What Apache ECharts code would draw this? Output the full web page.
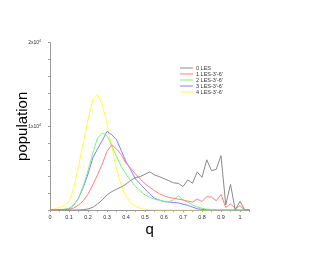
<!DOCTYPE html>
<html><head><meta charset="utf-8">
<script src="https://cdn.jsdelivr.net/npm/echarts@6/dist/echarts.min.js"></script>
<style>html,body{margin:0;padding:0;background:#fff}#c{width:327px;height:253px}</style>
</head><body><div id="c"></div>
<script>
const qValues = [0,0.025,0.05,0.075,0.1,0.125,0.15,0.175,0.2,0.225,0.25,0.275,0.3,0.325,0.35,0.375,0.4,0.425,0.45,0.475,0.5,0.525,0.55,0.575,0.6,0.625,0.65,0.675,0.7,0.725,0.75,0.775,0.8,0.825,0.85,0.875,0.9,0.925,0.95,0.975,1.0,1.025,1.05];
const seriesNames = ["0 LES","1 LES-3'-6'","2 LES-3'-6'","3 LES-3'-6'","4 LES-3'-6'"];
const les0 = [0,0,0,0,0,0,0,40,120,320,720,1200,1800,2200,2480,2750,3100,3550,3870,4000,4270,4550,4190,3990,3750,3510,3250,3190,2800,3600,3200,4550,3900,6000,4700,4870,6500,600,3070,0,1040,0,0];
const les1 = [0,0,0,20,80,250,600,1100,1900,3000,4200,5500,7000,7800,7300,6600,5600,5000,4300,3700,3150,2700,2300,1950,1700,1500,1400,1300,1200,1050,950,1300,1000,1600,1550,1100,1850,300,700,200,500,0,0];
const les2 = [0,20,50,100,200,600,1400,2900,4700,6800,8600,9200,8900,7700,6400,5200,4300,3500,2800,2300,1800,1500,1300,1150,1050,1000,1200,1700,1200,950,600,350,200,100,80,50,30,0,0,0,0,0,0];
const les3 = [0,10,30,60,150,600,1400,2700,4300,6200,7300,8300,9400,9000,8400,7100,5800,4800,3700,3100,2500,1900,1400,1200,1000,950,900,850,700,550,350,150,80,40,20,0,0,0,0,0,0,0,0];
const les4 = [0,150,300,550,1000,2600,5200,8000,10800,13200,13800,12600,10200,7500,4900,2900,1650,850,450,200,80,30,10,0,0,0,0,0,0,0,0,0,0,0,0,0,0,0,0,0,0,0,0];
const xTickLabels = ['0','0.1','0.2','0.3','0.4','0.5','0.6','0.7','0.8','0.9','1'];
const yTickLabels = {10000:'1x10{s|4}', 20000:'2x10{s|4}'};
const colors = ['#8a8a8a','#ff8080','#80f080','#8080ff','#ffff40'];

const allSeries = [les0,les1,les2,les3,les4];
const chart = echarts.init(document.getElementById('c'));
const font = 'Liberation Sans, Arial, sans-serif';
const axisLine = {lineStyle:{color:'#9a9a9a',width:1}};
chart.setOption({
  animation:false,
  backgroundColor:'#fff',
  grid:{left:50,right:77.5,top:42.7,bottom:43},
  legend:{
    data:seriesNames, orient:'vertical', left:175, top:60,
    icon:'rect', itemWidth:13, itemHeight:1, itemGap:0,
    textStyle:{fontSize:5.5, lineHeight:6, color:'#333', fontFamily:font, padding:[0,0,0,-2]}
  },
  xAxis:[{
    type:'value', min:0, max:1.05, interval:0.1,
    name:'q', nameLocation:'middle', nameGap:12, nameMoveOverlap:false,
    nameTextStyle:{fontSize:15, color:'#000', fontFamily:font},
    axisLine:axisLine, splitLine:{show:false},
    axisTick:{show:true, length:2, lineStyle:{color:'#9a9a9a'}},
    minorTick:{show:true, splitNumber:2, length:1.5, lineStyle:{color:'#9a9a9a'}},
    axisLabel:{fontSize:5.5, color:'#333', margin:4, fontFamily:font, showMaxLabel:false,
      formatter:v=> { const k = Math.round(v*10); return (Math.abs(v*10-k)<0.01 && k<=10) ? xTickLabels[k] : ''; }}
  },{
    type:'value', position:'top', min:0, max:1.05, interval:0.1,
    axisLine:axisLine, splitLine:{show:false}, axisLabel:{show:false},
    axisTick:{show:true, inside:true, length:2, lineStyle:{color:'#9a9a9a'}},
    minorTick:{show:true, splitNumber:2, length:1.5, lineStyle:{color:'#9a9a9a'}}
  }],
  yAxis:[{
    type:'value', min:0, max:20000, interval:2000,
    name:'population', nameLocation:'middle', nameGap:20, nameMoveOverlap:false,
    nameTextStyle:{fontSize:15, color:'#000', fontFamily:font},
    axisLine:{show:true, lineStyle:{color:'#9a9a9a'}}, splitLine:{show:false},
    axisTick:{show:true, length:2, lineStyle:{color:'#9a9a9a'}},
    axisLabel:{fontSize:5, color:'#333', margin:9, fontFamily:font,
      formatter:v=> yTickLabels[v] || '',
      rich:{s:{fontSize:3.5, verticalAlign:'top', padding:[0,0,3,0], color:'#333'}}}
  },{
    type:'value', position:'right', min:0, max:20000, interval:2000,
    axisLine:{show:true, lineStyle:{color:'#9a9a9a'}}, splitLine:{show:false}, axisLabel:{show:false},
    axisTick:{show:true, inside:true, length:2, lineStyle:{color:'#9a9a9a'}}
  }],
  series: allSeries.map((d,i)=>({
    name:seriesNames[i], type:'line', xAxisIndex:0, yAxisIndex:0,
    data:d.map((v,j)=>[qValues[j],v]), showSymbol:false, symbol:'none',
    lineStyle:{width:1, color:colors[i]}, itemStyle:{color:colors[i]}, z:10-i
  }))
});
</script></body></html>
